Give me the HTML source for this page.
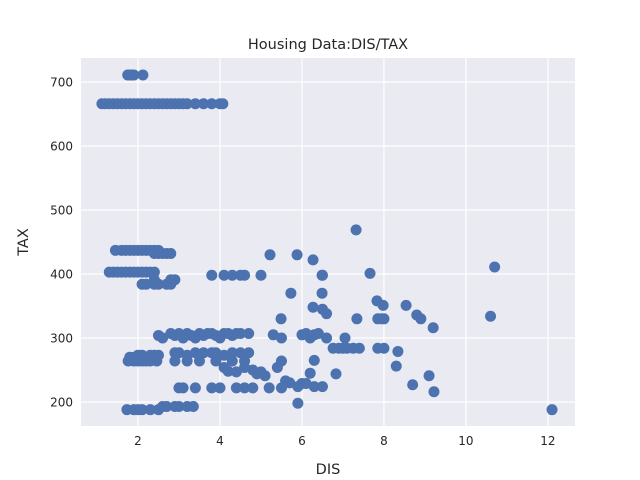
<!DOCTYPE html>
<html><head><meta charset="utf-8"><style>
body{margin:0;background:#fff;}
svg{display:block;font-family:"DejaVu Sans","Liberation Sans",sans-serif;}
</style></head><body>
<svg id="chart" width="640" height="480">
<rect x="81" y="58" width="494" height="368" fill="#eaeaf2"/>
<g id="grid"></g><g id="pts"></g><g id="ticks"></g>
<text x="328" y="49" text-anchor="middle" font-size="14.5" fill="#262626">Housing Data:DIS/TAX</text>
<text x="328" y="474" text-anchor="middle" font-size="14.5" fill="#262626">DIS</text>
<text x="28" y="242" text-anchor="middle" font-size="14.5" fill="#262626" transform="rotate(-90 28 242)">TAX</text>
</svg>
<script>
const xTicks=[2,4,6,8,10,12];
const yTicks=[200,300,400,500,600,700];
const disValues=[1.12,1.2,1.3,1.4,1.5,1.6,1.7,1.8,1.9,2.0,2.1,2.2,2.3,2.4,2.5,2.6,2.7,2.8,2.9,3.0,3.1,3.2,3.4,3.6,3.8,4.0,4.07,
1.75,1.8,1.85,1.9,2.12,
1.45,1.6,1.7,1.8,1.9,2.0,2.1,2.2,2.3,2.4,2.5,2.4,2.5,2.6,2.7,2.8,
1.3,1.4,1.5,1.6,1.7,1.8,1.9,2.0,2.1,2.2,2.3,2.4,3.8,4.1,4.3,4.5,4.6,5.0,2.4,2.8,2.9,2.1,2.2,2.4,2.5,2.7,2.8,
5.22,5.88,6.27,6.49,5.73,6.49,6.27,6.5,6.6,5.49,
2.5,2.6,2.8,2.9,3.0,3.1,3.2,3.3,3.4,3.5,3.6,3.7,3.8,3.9,4.0,4.1,4.2,4.3,4.4,4.5,4.7,5.3,5.5,6.0,6.1,6.2,6.3,6.4,6.6,
1.8,1.9,2.0,2.1,2.2,2.3,2.4,2.5,2.9,3.0,3.2,3.4,3.5,3.6,3.8,3.9,4.1,4.3,4.5,4.7,
1.76,1.9,2.0,2.1,2.2,2.3,2.46,2.9,3.2,3.5,3.9,4.3,4.6,
4.1,4.2,4.4,4.6,4.8,4.9,5.0,5.1,5.4,5.6,6.2,5.5,6.3,
3.0,3.1,3.4,3.8,4.0,4.4,4.6,4.8,5.2,5.5,5.7,5.9,6.0,6.1,6.3,6.5,5.9,
1.73,1.9,2.0,2.1,2.3,2.5,2.6,2.7,2.9,3.0,3.2,3.35,
7.32,7.66,10.7,6.5,7.83,7.98,8.54,8.8,8.9,9.2,10.6,7.34,7.85,7.95,8.0,7.05,6.76,6.9,7.0,7.1,7.25,7.4,7.85,8.0,8.34,8.3,6.83,9.1,8.7,9.22,12.1];
const taxValues=[666,666,666,666,666,666,666,666,666,666,666,666,666,666,666,666,666,666,666,666,666,666,666,666,666,666,666,
711,711,711,711,711,
437,437,437,437,437,437,437,437,437,437,437,432,432,432,432,432,
403,403,403,403,403,403,403,403,403,403,403,403,398,398,398,398,398,398,391,391,391,384,384,384,384,384,384,
430,430,422,398,370,370,348,345,338,330,
304,300,307,304,307,300,307,304,300,307,304,307,307,304,300,307,307,304,307,307,307,305,300,305,307,300,305,307,300,
270,270,273,273,270,273,273,273,277,277,273,277,273,277,277,277,273,277,277,277,
264,264,264,264,264,264,264,264,264,264,264,264,264,
254,248,247,254,250,244,247,241,254,233,245,264,265,
222,222,222,222,222,222,222,222,222,222,230,224,229,229,224,224,198,
188,188,188,188,188,188,193,193,193,193,193,193,
469,401,411,398,358,351,351,336,330,316,334,330,330,330,330,300,284,284,284,284,284,284,284,284,279,256,244,241,227,216,188];
const L=81,R=575,T=58,B=426,xmin=0.61,xmax=12.66,ymin=162.5,ymax=737.5;
const X=v=>L+(v-xmin)/(xmax-xmin)*(R-L);
const Y=v=>B-(v-ymin)/(ymax-ymin)*(B-T);
const NS='http://www.w3.org/2000/svg';
const grid=document.getElementById('grid'),tk=document.getElementById('ticks'),pts=document.getElementById('pts');
function mk(tag,attrs,parent){const e=document.createElementNS(NS,tag);for(const k in attrs)e.setAttribute(k,attrs[k]);parent.appendChild(e);return e;}
xTicks.forEach(t=>{
 const l=mk('line',{x1:X(t),x2:X(t),y1:T,y2:B,stroke:'#fff','stroke-width':1.2},grid);
 
 
 const s=mk('text',{x:X(t),y:B+19,'text-anchor':'middle','font-size':12,fill:'#262626'},tk);
 s.textContent=t;
 
 
});
yTicks.forEach(t=>{
 const l=mk('line',{x1:L,x2:R,y1:Y(t),y2:Y(t),stroke:'#fff','stroke-width':1.2},grid);
 
 
 const s=mk('text',{x:L-8,y:Y(t)+4.5,'text-anchor':'end','font-size':12,fill:'#262626'},tk);
 s.textContent=t;
 
 
});
disValues.forEach((d,i)=>{
 const c=mk('circle',{cx:X(d),cy:Y(taxValues[i]),r:5.5,fill:'#4c72b0'},pts);
 
 
});
</script>
</body></html>
